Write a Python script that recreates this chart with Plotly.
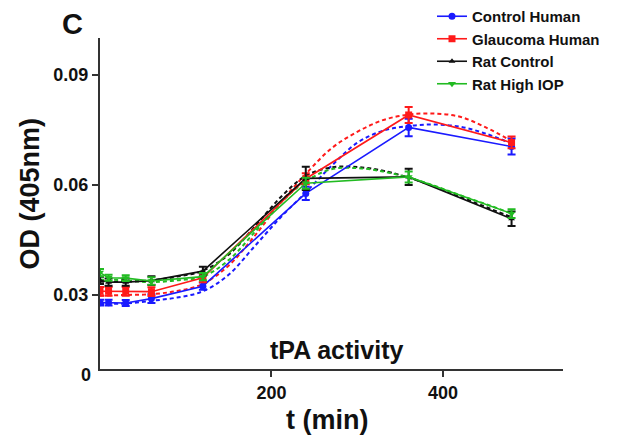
import plotly.graph_objects as go

# ---- data ----
t = [0, 10, 30, 60, 120, 240, 360, 480]
control_human = [0.0279, 0.0279, 0.0278, 0.0290, 0.0324, 0.0577, 0.0757, 0.0705]
glaucoma_human = [0.0310, 0.0310, 0.0310, 0.0309, 0.0347, 0.0617, 0.0791, 0.0716]
rat_control = [0.0340, 0.0335, 0.0335, 0.0339, 0.0365, 0.0618, 0.0622, 0.0508]
rat_high_iop = [0.0361, 0.0347, 0.0346, 0.0338, 0.0350, 0.0605, 0.0622, 0.0522]

err_control_human = [0.0008, 0.0008, 0.0008, 0.0012, 0.0010, 0.0018, 0.0024, 0.0022]
err_glaucoma_human = [0.0012, 0.0012, 0.0012, 0.0012, 0.0012, 0.0015, 0.0022, 0.0016]
err_rat_control = [0.0010, 0.0010, 0.0010, 0.0012, 0.0012, 0.0032, 0.0022, 0.0020]
err_rat_high_iop = [0.0010, 0.0008, 0.0008, 0.0010, 0.0010, 0.0015, 0.0015, 0.0012]

# fitted curves
t_fit = [0, 30, 60, 90, 120, 150, 180, 210, 240, 270, 300, 330, 360, 390, 420, 450, 480]
fit_control_human = [0.0275, 0.0277, 0.0284, 0.0293, 0.0310, 0.0355, 0.0432, 0.0510, 0.0580, 0.0652,
                     0.0715, 0.0748, 0.0761, 0.0765, 0.0759, 0.0740, 0.0713]
fit_glaucoma_human = [0.0298, 0.0300, 0.0302, 0.0311, 0.0330, 0.0380, 0.0460, 0.0550, 0.0630, 0.0700,
                      0.0745, 0.0777, 0.0792, 0.0795, 0.0786, 0.0757, 0.0720]
fit_rat_control = [0.0336, 0.0336, 0.0340, 0.0350, 0.0366, 0.0410, 0.0485, 0.0565, 0.0625, 0.0648,
                   0.0649, 0.0639, 0.0620, 0.0596, 0.0568, 0.0540, 0.0512]
fit_rat_high_iop = [0.0342, 0.0340, 0.0335, 0.0340, 0.0350, 0.0395, 0.0470, 0.0550, 0.0610, 0.0643,
                    0.0646, 0.0637, 0.0620, 0.0598, 0.0572, 0.0548, 0.0522]

series_names = ["Control Human", "Glaucoma Human", "Rat Control", "Rat High IOP"]
x_ticks = [200, 400]
y_ticks = [0.03, 0.06, 0.09]
y_tick_text = ["0.03", "0.06", "0.09"]

FONT = "Liberation Sans, Arial, sans-serif"

series = [
    (series_names[0], control_human, err_control_human, fit_control_human, "#1a1aff", "circle", 7),
    (series_names[1], glaucoma_human, err_glaucoma_human, fit_glaucoma_human, "#ff1a1a", "square", 7),
    (series_names[2], rat_control, err_rat_control, fit_rat_control, "#111111", "triangle-up", 6),
    (series_names[3], rat_high_iop, err_rat_high_iop, fit_rat_high_iop, "#22bb22", "triangle-down", 7),
]

fig = go.Figure()

for name, vals, errs, fit, color, sym, msize in series:
    fig.add_trace(go.Scatter(
        x=t_fit, y=fit, mode="lines", showlegend=False, hoverinfo="skip",
        line=dict(color=color, width=2, dash="4px,3px", shape="spline", smoothing=1.0),
    ))

for name, vals, errs, fit, color, sym, msize in series:
    fig.add_trace(go.Scatter(
        x=t, y=vals, mode="lines+markers", name=name,
        line=dict(color=color, width=1.6),
        marker=dict(symbol=sym, size=msize, color=color),
        error_y=dict(type="data", array=errs, visible=True, color=color, thickness=2, width=4),
    ))

# plot area lands at x 99..562, y 37..368 of the window (page body adds a small offset)
PX0, PX1, PY0, PY1 = 99, 562, 37, 368


def px(x):
    return (x - PX0) / (PX1 - PX0)


def py(y):
    return (PY1 - y) / (PY1 - PY0)


fig.update_layout(
    width=630, height=435,
    margin=dict(l=92, r=75, t=30, b=74, autoexpand=False),
    plot_bgcolor="white", paper_bgcolor="white",
    font=dict(family=FONT, color="#111111", weight="bold"),
    showlegend=True,
    legend=dict(
        x=px(431), y=py(-1), xanchor="left", yanchor="top",
        font=dict(size=15, family=FONT, color="#111111", weight="bold"),
        itemwidth=30, tracegroupgap=0, bgcolor="rgba(0,0,0,0)",
    ),
    xaxis=dict(
        range=[0, 540], tickvals=x_ticks, ticks="outside", ticklen=6, tickwidth=2,
        tickcolor="#333333", showline=True, linecolor="#333333", linewidth=2,
        showgrid=False, zeroline=False,
        tickfont=dict(size=18, family=FONT, weight="bold"),
    ),
    yaxis=dict(
        range=[0.0098, 0.1001], tickvals=y_ticks, ticktext=y_tick_text, ticks="outside",
        ticklen=6, tickwidth=2, tickcolor="#333333",
        showline=True, linecolor="#333333", linewidth=2, showgrid=False, zeroline=False,
        tickfont=dict(size=18, family=FONT, weight="bold"),
    ),
    annotations=[
        dict(text="0", xref="paper", yref="paper", x=0, y=0, xanchor="right", yanchor="middle",
             xshift=-7, yshift=-6, showarrow=False, font=dict(size=18, family=FONT, weight="bold")),
        dict(text="tPA activity", xref="paper", yref="paper", x=px(335), y=py(349),
             xanchor="center", yanchor="middle", showarrow=False,
             font=dict(size=25, family=FONT, weight="bold")),
        dict(text="t (min)", xref="paper", yref="paper", x=px(325.5), y=py(419),
             xanchor="center", yanchor="middle", showarrow=False,
             font=dict(size=27, family=FONT, weight="bold")),
        dict(text="OD (405nm)", xref="paper", yref="paper", x=px(28), y=py(192.5),
             xanchor="center", yanchor="middle", textangle=-90, showarrow=False,
             font=dict(size=27, family=FONT, weight="bold")),
        dict(text="C", xref="paper", yref="paper", x=px(71.5), y=py(22.5),
             xanchor="center", yanchor="middle", showarrow=False,
             font=dict(size=29, family=FONT, weight="bold")),
    ],
)

fig.write_html("out.html")
